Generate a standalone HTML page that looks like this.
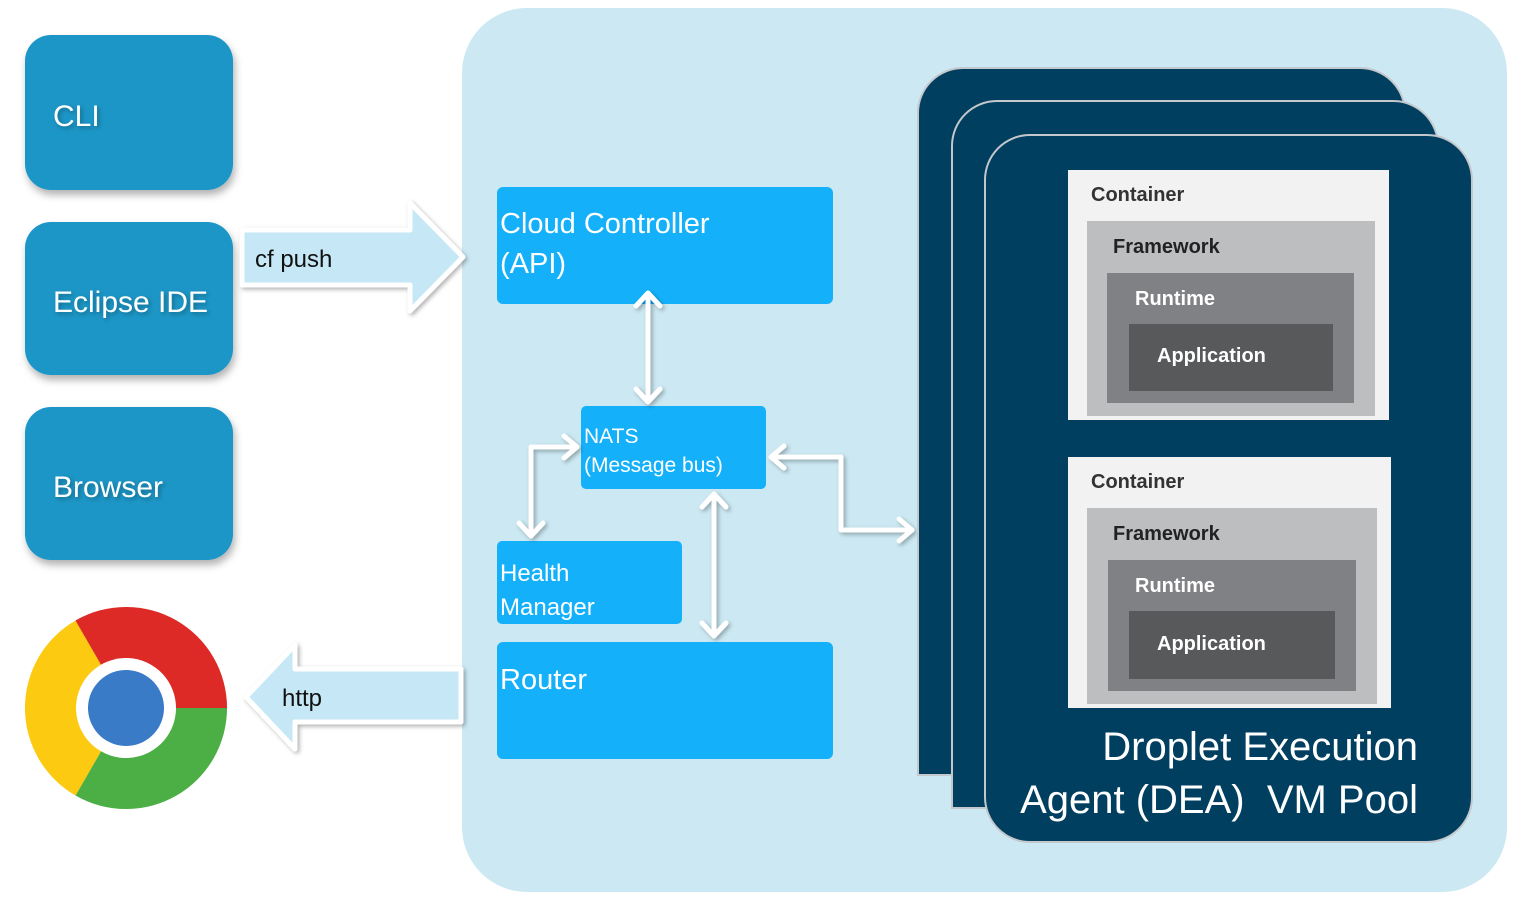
<!DOCTYPE html>
<html><head><meta charset="utf-8"><style>html,body{margin:0;padding:0;background:#fff}svg{display:block}</style></head>
<body>
<svg width="1525" height="900" viewBox="0 0 1525 900" xmlns="http://www.w3.org/2000/svg" font-family="Liberation Sans, sans-serif">
<defs>
<filter id="sh" x="-10%" y="-10%" width="130%" height="130%"><feDropShadow dx="2" dy="5" stdDeviation="4" flood-color="#000" flood-opacity="0.3"/></filter>
<filter id="sh2" x="-10%" y="-10%" width="130%" height="130%"><feDropShadow dx="2" dy="2" stdDeviation="2" flood-color="#000" flood-opacity="0.3"/></filter>
</defs>
<rect x="462" y="8" width="1045" height="884" rx="65" fill="#cce9f3"/>
<g filter="url(#sh)">
<rect x="25" y="35" width="208" height="155" rx="26" fill="#1a96c6"/>
<rect x="25" y="222" width="208" height="153" rx="26" fill="#1a96c6"/>
<rect x="25" y="407" width="208" height="153" rx="26" fill="#1a96c6"/>
</g>
<g fill="#fff" font-size="30" filter="url(#sh2)">
<text x="53" y="126">CLI</text>
<text x="53" y="312">Eclipse IDE</text>
<text x="53" y="497">Browser</text>
</g>
<g filter="url(#sh2)">
<polygon points="242,230 410,230 410,203 463,257 410,311 410,285 242,285" fill="#c6e8f6" stroke="#fff" stroke-width="5" stroke-linejoin="round"/>
<polygon points="246,697 295,645 295,669 461,669 461,722 295,722 295,749" fill="#c6e8f6" stroke="#fff" stroke-width="5" stroke-linejoin="round"/>
</g>
<text x="255" y="267" font-size="24" fill="#111">cf push</text>
<text x="282" y="706" font-size="24" fill="#111">http</text>
<!-- chrome -->
<g transform="translate(126,708) rotate(30)">
<path d="M0,0 L-87.5,-50.5 A101,101 0 0 1 87.5,-50.5 Z" fill="#4caf45" transform="rotate(120)"/>
<path d="M0,0 L-87.5,-50.5 A101,101 0 0 1 87.5,-50.5 Z" fill="#fcca10" transform="rotate(240)"/>
<path d="M0,0 L-87.5,-50.5 A101,101 0 0 1 87.5,-50.5 Z" fill="#dd2a27"/>
<circle r="50" fill="#fff"/>
<circle r="38" fill="#3a7bc8"/>
</g>
<!-- boxes -->
<g fill="#14b1fa">
<rect x="497" y="187" width="336" height="117" rx="6"/>
<rect x="581" y="406" width="185" height="83" rx="5"/>
<rect x="497" y="541" width="185" height="83" rx="5"/>
<rect x="497" y="642" width="336" height="117" rx="6"/>
</g>
<g fill="#fff">
<text x="500" y="233" font-size="29">Cloud Controller</text>
<text x="500" y="273" font-size="29">(API)</text>
<text x="584" y="443" font-size="21">NATS</text>
<text x="584" y="472" font-size="21">(Message bus)</text>
<text x="500" y="581" font-size="24">Health</text>
<text x="500" y="615" font-size="24">Manager</text>
<text x="500" y="689" font-size="29">Router</text>
</g>
<!-- connectors -->
<g stroke="#fff" stroke-width="5" fill="none" stroke-linecap="round" stroke-linejoin="round" filter="url(#sh2)">
<path d="M648,294 V401 M636,306 L648,293 L660,306 M636,389 L648,402 L660,389"/>
<path d="M576,447 H531 V535 M564,436 L577,447 L564,458 M519,523 L531,536 L543,523"/>
<path d="M714,494 V636 M702,507 L714,494 L726,507 M702,623 L714,636 L726,623"/>
<path d="M771,457 H841 V530 H912 M784,446 L771,457 L784,468 M899,519 L912,530 L899,541"/>
</g>
<!-- DEA cards -->
<g fill="#003f5f" stroke="#c4c8cc" stroke-width="2">
<path d="M918,775 V113 A45,45 0 0 1 963,68 H1360 A45,45 0 0 1 1405,113 V775 Z"/>
<path d="M952,808 V146 A45,45 0 0 1 997,101 H1393 A45,45 0 0 1 1438,146 V808 Z"/>
<rect x="985" y="135" width="487" height="707" rx="45"/>
</g>
<rect x="1068" y="170" width="321" height="250" fill="#f2f2f2"/>
<rect x="1087" y="221" width="288" height="195" fill="#bdbec0"/>
<rect x="1107" y="273" width="247" height="130" fill="#808185"/>
<rect x="1129" y="324" width="204" height="67" fill="#58595b"/>
<rect x="1068" y="457" width="323" height="251" fill="#f2f2f2"/>
<rect x="1087" y="508" width="290" height="196" fill="#bdbec0"/>
<rect x="1108" y="560" width="248" height="131" fill="#808185"/>
<rect x="1129" y="611" width="206" height="68" fill="#58595b"/>
<g font-size="20" font-weight="bold">
<text x="1091" y="201" fill="#333">Container</text>
<text x="1113" y="253" fill="#222">Framework</text>
<text x="1135" y="305" fill="#fff">Runtime</text>
<text x="1157" y="362" fill="#fff">Application</text>
<text x="1091" y="488" fill="#333">Container</text>
<text x="1113" y="540" fill="#222">Framework</text>
<text x="1135" y="592" fill="#fff">Runtime</text>
<text x="1157" y="650" fill="#fff">Application</text>
</g>
<g fill="#fff" font-size="40">
<text x="1418" y="760" text-anchor="end">Droplet Execution</text>
<text x="1418" y="813" text-anchor="end" xml:space="preserve">Agent (DEA)  VM Pool</text>
</g>
</svg>
</body></html>
